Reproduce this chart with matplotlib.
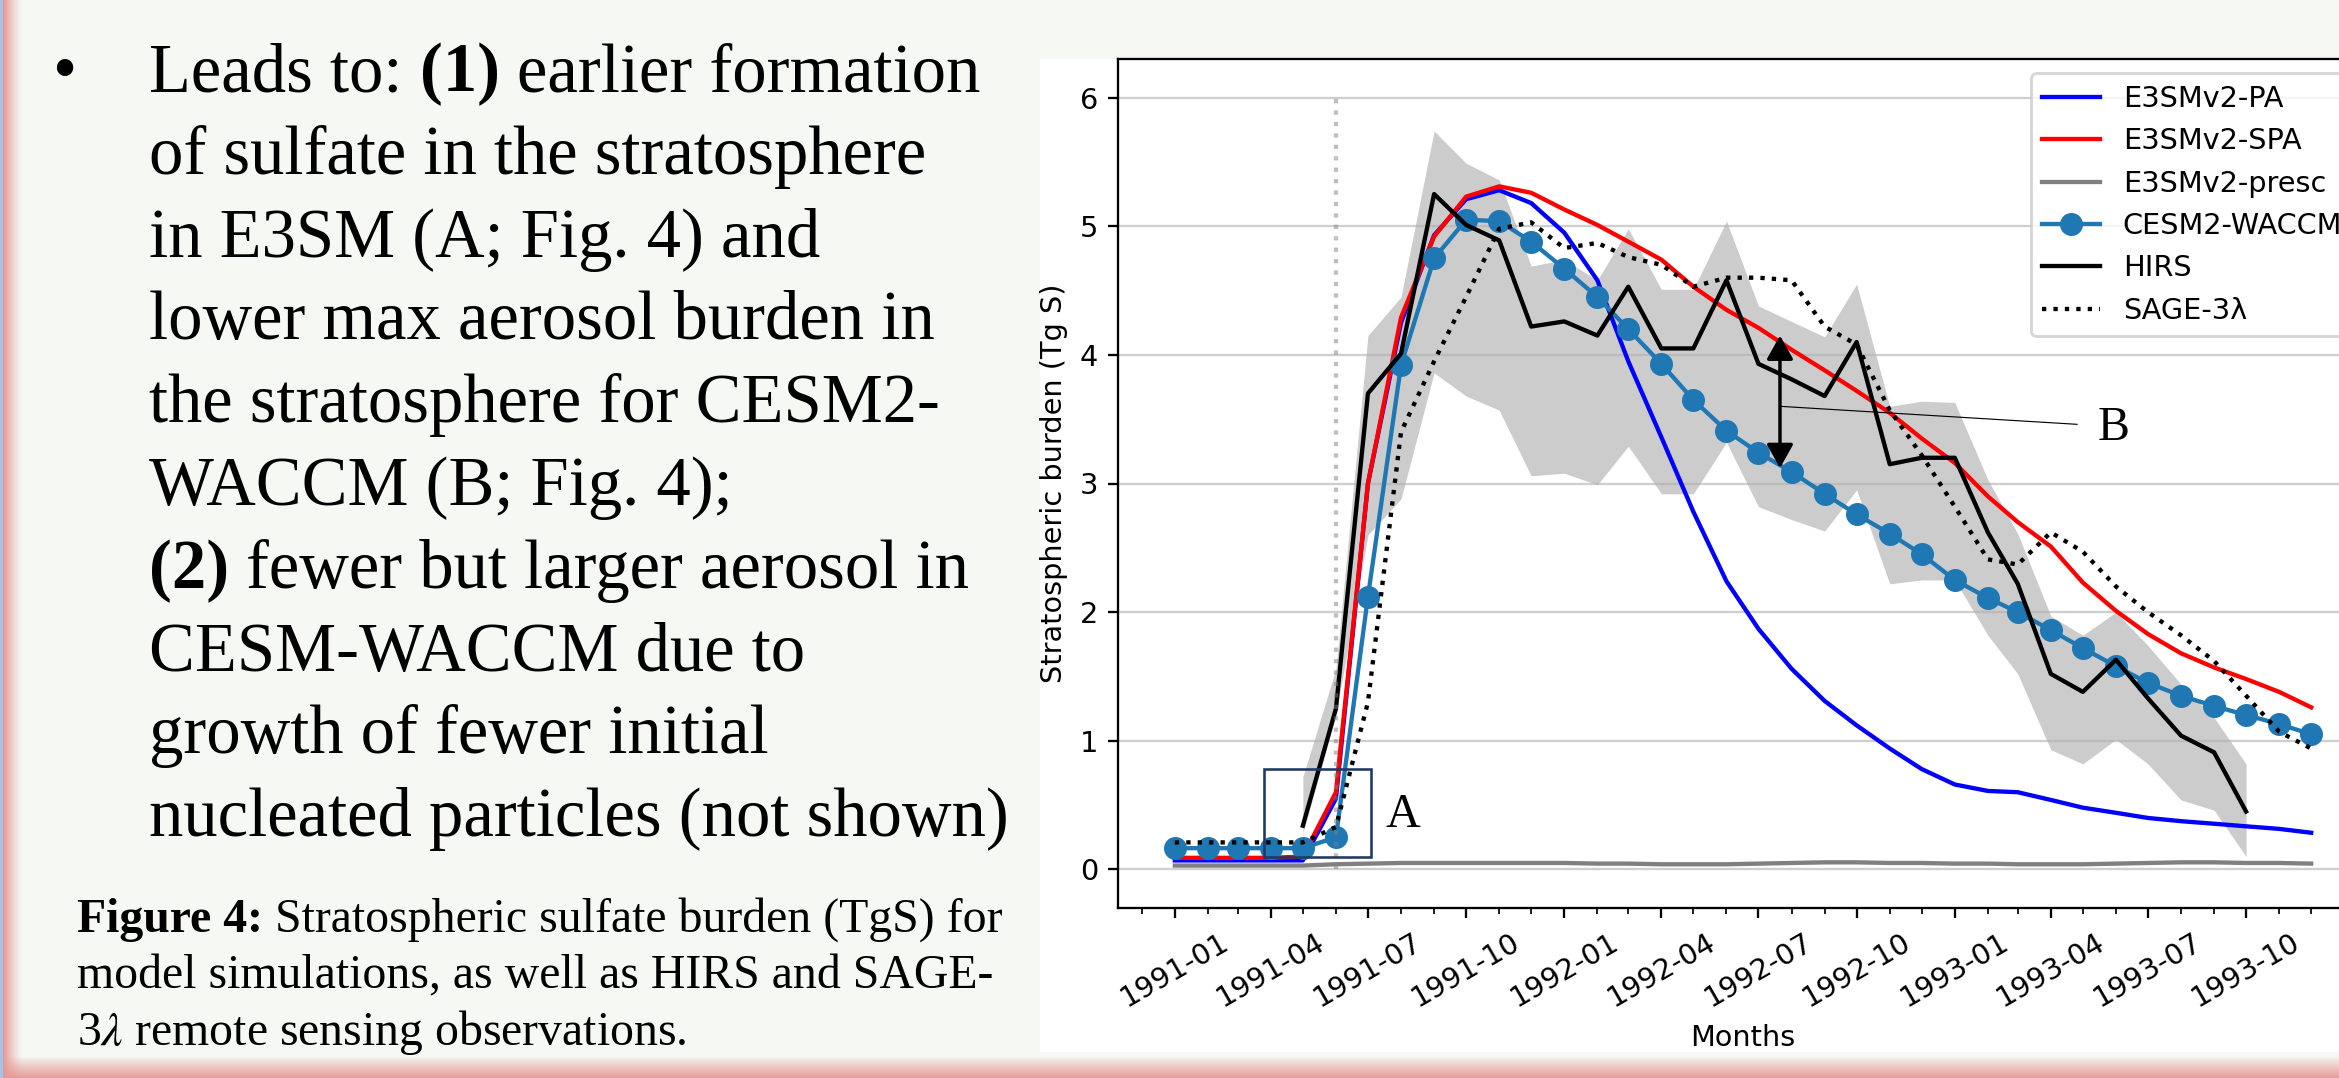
import matplotlib
matplotlib.use("Agg")
import matplotlib.pyplot as plt
import matplotlib.dates as mdates
import numpy as np
import pandas as pd
from matplotlib.patches import Rectangle

# ---- data (Tg S), monthly 1991-01 .. 1993-12 ----
months = pd.date_range("1991-01-01", "1993-12-01", freq="MS")

pa = [0.07, 0.07, 0.07, 0.07, 0.07, 0.55, 3.00, 4.25, 4.93, 5.21, 5.28, 5.18,
      4.95, 4.58, 3.95, 3.36, 2.78, 2.24, 1.87, 1.56, 1.31, 1.12, 0.94, 0.78,
      0.66, 0.61, 0.60, 0.54, 0.48, 0.44, 0.40, 0.375, 0.355, 0.335, 0.315, 0.285]
spa = [0.09, 0.09, 0.09, 0.09, 0.10, 0.60, 3.00, 4.29, 4.92, 5.23, 5.31, 5.26,
       5.13, 5.01, 4.88, 4.74, 4.53, 4.35, 4.21, 4.04, 3.88, 3.72, 3.55, 3.35,
       3.16, 2.90, 2.70, 2.51, 2.23, 2.01, 1.83, 1.68, 1.57, 1.48, 1.38, 1.26]
presc = [0.03, 0.03, 0.03, 0.03, 0.03, 0.04, 0.045, 0.05, 0.05, 0.05, 0.05, 0.05,
         0.05, 0.045, 0.045, 0.04, 0.04, 0.04, 0.045, 0.05, 0.055, 0.055, 0.05, 0.05,
         0.045, 0.045, 0.04, 0.04, 0.04, 0.045, 0.05, 0.055, 0.055, 0.05, 0.05, 0.045]
waccm = [0.165, 0.165, 0.165, 0.165, 0.165, 0.25, 2.12, 3.92, 4.75, 5.05, 5.04, 4.88,
         4.67, 4.45, 4.20, 3.93, 3.65, 3.41, 3.24, 3.09, 2.92, 2.76, 2.61, 2.45,
         2.25, 2.11, 2.00, 1.86, 1.72, 1.58, 1.45, 1.35, 1.27, 1.20, 1.13, 1.05]
sage = [0.21, 0.21, 0.21, 0.21, 0.21, 0.33, 1.30, 3.40, 3.95, 4.45, 4.98, 5.03,
        4.83, 4.87, 4.76, 4.70, 4.53, 4.60, 4.60, 4.58, 4.22, 4.08, 3.57, 3.22,
        2.82, 2.41, 2.37, 2.62, 2.47, 2.20, 2.00, 1.82, 1.62, 1.35, 1.07, 0.94]

# HIRS only covers 1991-05 .. 1993-10
hirs_months = months[4:34]
hirs = [0.34, 1.25, 3.70, 4.01, 5.25, 5.01, 4.89, 4.22, 4.26, 4.15, 4.53, 4.05,
        4.05, 4.58, 3.93, 3.81, 3.68, 4.10, 3.15, 3.20, 3.20, 2.62, 2.22, 1.52,
        1.38, 1.63, 1.33, 1.04, 0.91, 0.45]
hirs_hi = [0.72, 1.56, 4.15, 4.45, 5.74, 5.49, 5.36, 4.69, 4.74, 4.58, 4.98, 4.51,
           4.51, 5.04, 4.38, 4.26, 4.14, 4.55, 3.60, 3.64, 3.63, 3.03, 2.61, 1.97,
           1.82, 2.00, 1.74, 1.44, 1.18, 0.82]
hirs_lo = [0.28, 1.20, 2.60, 2.88, 3.86, 3.68, 3.57, 3.06, 3.08, 2.99, 3.29, 2.92,
           2.92, 3.32, 2.82, 2.72, 2.63, 2.95, 2.22, 2.25, 2.25, 1.82, 1.52, 0.93,
           0.82, 1.01, 0.82, 0.54, 0.46, 0.10]

W, H, DPI = 2339, 1078, 207
SERIF = "Liberation Serif"
plt.rcParams["mathtext.fontset"] = "stix"

fig = plt.figure(figsize=(W / DPI, H / DPI), dpi=DPI)

# slide background with the pink frame on the left and bottom
bg = np.ones((H, W, 3)) * np.array([0.961, 0.973, 0.953])
pink = np.array([0.90, 0.60, 0.59])
xs = np.arange(W)
wl = np.clip(1 - (xs - 3) / 19.0, 0, 1) ** 1.3
bg = bg * (1 - wl[None, :, None]) + pink * wl[None, :, None]
ys = np.arange(H)
wb = np.clip((ys - 1056) / 22.0, 0, 1) ** 0.9
bg = bg * (1 - wb[:, None, None]) + pink * wb[:, None, None]
bg[:, :3] = [0.66, 0.76, 0.92]

bg_ax = fig.add_axes([0, 0, 1, 1], zorder=-10)
bg_ax.imshow(bg, extent=(0, W, H, 0), aspect="auto", interpolation="nearest")
bg_ax.add_patch(Rectangle((1040, 59), W - 1040, 1052 - 59, color="white", lw=0))
bg_ax.set_xlim(0, W)
bg_ax.set_ylim(H, 0)
bg_ax.set_axis_off()

# ---- chart ----
ax = fig.add_axes([1118 / W, 1 - 908 / H, 1250 / W, (908 - 59) / H])
xnum = mdates.date2num(months)


def mpos(m):
    # fractional month index -> date number
    return np.interp(m, np.arange(len(xnum)), xnum)


ax.fill_between(hirs_months, hirs_lo, hirs_hi, color="k", alpha=0.2, lw=0)
ax.plot(months, pa, color="blue", label="E3SMv2-PA")
ax.plot(months, spa, color="red", label="E3SMv2-SPA")
ax.plot(months, presc, color="grey", label="E3SMv2-presc")
ax.plot(months, waccm, "o-", color="tab:blue", ms=7, label="CESM2-WACCM")
ax.plot(hirs_months, hirs, color="k", label="HIRS")
ax.plot(months, sage, "k:", label="SAGE-3λ")
ax.vlines(mpos(5), 0, 6, colors="grey", linestyles=":", alpha=0.5)

ax.legend(loc="upper right")
ax.grid(axis="y", color="#b0b0b0", alpha=0.6)

# quarterly labels only inside the data range, monthly minor ticks
ax.set_xticks(months[::3])
ax.xaxis.set_minor_locator(mdates.MonthLocator())
ax.xaxis.set_major_formatter(mdates.DateFormatter("%Y-%m"))
plt.setp(ax.get_xticklabels(), rotation=30)
ax.set_xlabel("Months")
ax.set_ylabel("Stratospheric burden (Tg S)")

# annotations A and B
ax.add_patch(Rectangle((mpos(2.8), 0.10), mpos(6.09) - mpos(2.8), 0.68,
                       fill=False, ec="#1f3864", lw=0.9, zorder=6))
ax.text(mpos(6.54), 0.33, "A", family=SERIF, fontsize=16.7, va="baseline")
ax.annotate("", xy=(mpos(18.65), 3.12), xytext=(mpos(18.65), 4.15),
            arrowprops=dict(arrowstyle="<|-|>,head_length=0.5,head_width=0.28",
                            color="k", lw=1.2, shrinkA=0, shrinkB=0,
                            mutation_scale=14))
ax.plot([mpos(18.65), mpos(27.82)], [3.60, 3.46], color="k", lw=0.4)
ax.text(mpos(28.46), 3.34, "B", family=SERIF, fontsize=16.7, va="baseline")

span = xnum[-1] - xnum[0]
ax.set_xlim(xnum[0] - 0.05 * span, xnum[-1] + 0.05 * span)
ax.set_ylim(-0.3, 6.3)

# ---- slide text ----
renderer = fig.canvas.get_renderer()


def tw(s, **kw):
    t = fig.text(0, 0, s, **kw)
    w = t.get_window_extent(renderer=renderer).width
    t.remove()
    return w


def draw_line(x, y, segs, size):
    for s, weight in segs:
        kw = dict(family=SERIF, fontsize=size, fontweight=weight)
        sp = tw("I I", **kw) - tw("II", **kw)
        x += (len(s) - len(s.lstrip(" "))) * sp
        core = s.strip(" ")
        fig.text(x / W, 1 - y / H, core, va="baseline", ha="left", **kw)
        x += tw("I" + core + "I", **kw) - tw("II", **kw)
        x += (len(s) - len(s.rstrip(" "))) * sp


body = [
    [("Leads to: ", "normal"), ("(1)", "bold"), (" earlier formation", "normal")],
    [("of sulfate in the stratosphere", "normal")],
    [("in E3SM (A; Fig. 4) and", "normal")],
    [("lower max aerosol burden in", "normal")],
    [("the stratosphere for CESM2-", "normal")],
    [("WACCM (B; Fig. 4);", "normal")],
    [("(2)", "bold"), (" fewer but larger aerosol in", "normal")],
    [("CESM-WACCM due to", "normal")],
    [("growth of fewer initial", "normal")],
    [("nucleated particles (not shown)", "normal")],
]
BODY_PT = 23.9
fig.text(52 / W, 1 - 91 / H, "\u2022", family=SERIF, fontsize=BODY_PT, va="baseline")
for i, segs in enumerate(body):
    draw_line(149, 91 + 82.8 * i, segs, BODY_PT)

CAP_PT = 16.6
caption = [
    [("Figure 4:", "bold"), (" Stratospheric sulfate burden (TgS) for", "normal")],
    [("model simulations, as well as HIRS and SAGE-", "normal")],
    [("3$\\lambda$ remote sensing observations.", "normal")],
]
for i, segs in enumerate(caption):
    draw_line(77, 931.7 + 56.7 * i, segs, CAP_PT)

fig.savefig("out.png", dpi=DPI)
